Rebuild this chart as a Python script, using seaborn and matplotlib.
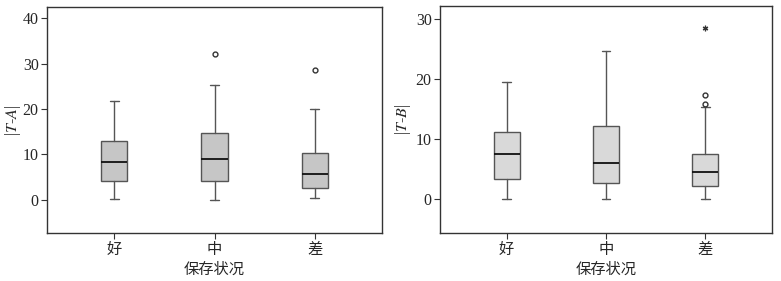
import matplotlib
matplotlib.use("Agg")
import matplotlib.pyplot as plt
import seaborn as sns

categories = ["好", "中", "差"]

# |T-A| summary
ta_low = [0.2, 0.0, 0.3]
ta_q1 = [4.0, 4.0, 2.5]
ta_med = [8.3, 8.9, 5.6]
ta_q3 = [13.0, 14.7, 10.2]
ta_high = [21.7, 25.4, 19.9]
ta_out = [[], [32.2], [28.5]]
ta_ext = [[], [], []]

# |T-B| summary
tb_low = [0.0, 0.1, 0.1]
tb_q1 = [3.4, 2.7, 2.2]
tb_med = [7.6, 6.1, 4.6]
tb_q3 = [11.2, 12.2, 7.6]
tb_high = [19.5, 24.7, 15.3]
tb_out = [[], [], [15.8, 17.3]]
tb_ext = [[], [], [28.5]]

sns.set_theme(style="ticks")
plt.rcParams["font.family"] = ["Liberation Serif", "Noto Sans CJK SC"]
plt.rcParams["mathtext.fontset"] = "stix"

fig = plt.figure(figsize=(7.81, 2.81), dpi=100)
ax1 = fig.add_axes([0.0602, 0.1708, 0.429, 0.804])
ax2 = fig.add_axes([0.5634, 0.1708, 0.425, 0.808])


def draw(ax, low, q1, med, q3, high, out, ext, face, ylim, yticks, ylabel, labx):
    stats = []
    for i in range(len(categories)):
        stats.append(dict(whislo=low[i], q1=q1[i], med=med[i], q3=q3[i],
                          whishi=high[i], fliers=out[i], label=categories[i]))
    ax.bxp(stats, positions=range(len(categories)), widths=0.26,
           patch_artist=True, showfliers=True,
           boxprops=dict(facecolor=face, edgecolor="#555555", linewidth=1.0),
           medianprops=dict(color="#111111", linewidth=1.3),
           whiskerprops=dict(color="#555555", linewidth=1.0),
           capprops=dict(color="#555555", linewidth=1.0),
           capwidths=0.09,
           flierprops=dict(marker="o", markersize=3.5, markerfacecolor="none",
                           markeredgecolor="#333333", markeredgewidth=1.0))
    for i, vals in enumerate(ext):
        if vals:
            ax.plot([i] * len(vals), vals, linestyle="none", marker=(6, 2, 0),
                    markersize=4, markeredgewidth=0.9, color="#333333")
    ax.set_xlim(-0.67, 2.67)
    ax.set_ylim(*ylim)
    ax.set_yticks(yticks)
    ax.set_xticks(range(len(categories)))
    ax.set_xticklabels(categories, fontsize=11)
    ax.tick_params(axis="y", labelsize=11.5, length=4, width=0.8, color="#333333", pad=2)
    ax.tick_params(axis="x", length=4, width=0.8, color="#333333", pad=3)
    for s in ax.spines.values():
        s.set_visible(True)
        s.set_color("#333333")
        s.set_linewidth(1.0)
    ax.set_xlabel("保存状况", fontsize=11, labelpad=4)
    ax.set_ylabel(ylabel, fontsize=11.5)
    ax.yaxis.set_label_coords(labx, 0.5)


draw(ax1, ta_low, ta_q1, ta_med, ta_q3, ta_high, ta_out, ta_ext, "#c6c6c6",
     (-7.4, 42.5), [0, 10, 20, 30, 40], r"|$T$-$A$|", -0.072)
draw(ax2, tb_low, tb_q1, tb_med, tb_q3, tb_high, tb_out, tb_ext, "#d9d9d9",
     (-5.6, 32.1), [0, 10, 20, 30], r"|$T$-$B$|", -0.08)

fig.savefig("out.png", dpi=100)
